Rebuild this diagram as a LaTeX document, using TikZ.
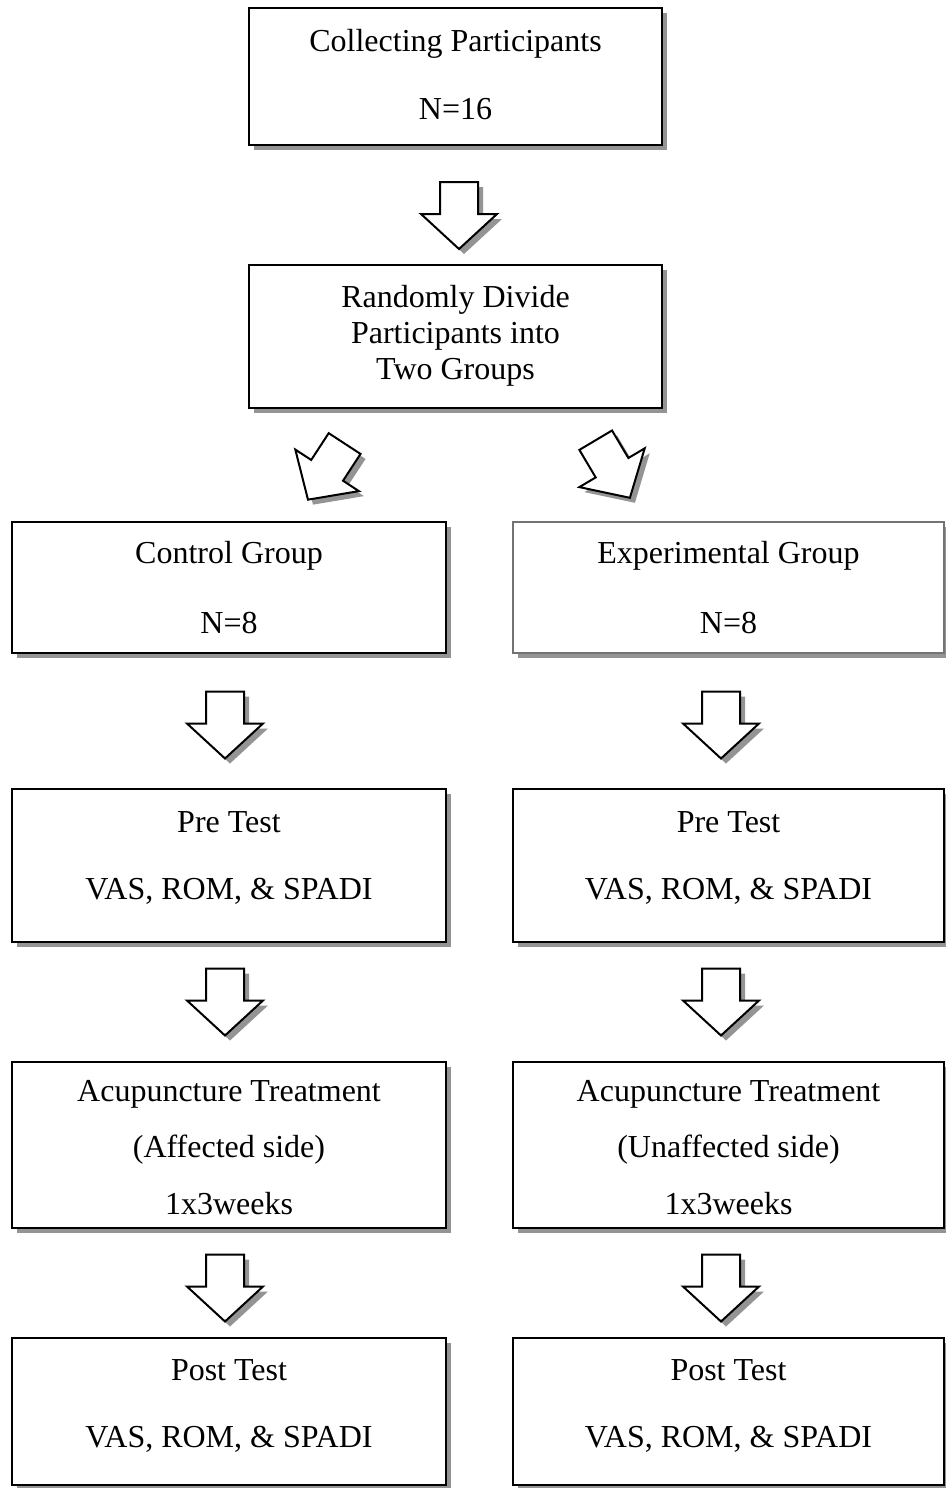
\documentclass[tikz,border=0pt]{standalone}
\usepackage{fontspec}
\setmainfont{Liberation Serif}
\usetikzlibrary{shadows}
\tikzset{
  stepbox/.style={draw=black, line width=1pt, fill=white, inner sep=0pt,
    drop shadow={shadow xshift=2.5pt, shadow yshift=-2.5pt, fill=black!42, opacity=1}},
  lbl/.style={font=\fontsize{16}{19}\selectfont, inner sep=0pt, yshift=-1.2pt},
  arrowshadow/.style={fill=black!42, draw=none},
  arrowbody/.style={fill=white, draw=black, line width=1pt, line join=miter},
}
\newcommand{\blockarrow}[4]{%
  \fill[arrowshadow, shift={(#2+5,#3+5)}, rotate=#4]
    (-33.5,-19) -- (-1.5,-19) -- (-1.5,-38) -- (33.5,0) -- (-1.5,38) -- (-1.5,19) -- (-33.5,19) -- cycle;
  \draw[arrowbody, shift={(#2,#3)}, rotate=#4]
    (-33.5,-19) -- (-1.5,-19) -- (-1.5,-38) -- (33.5,0) -- (-1.5,38) -- (-1.5,19) -- (-33.5,19) -- cycle;
  \coordinate (#1) at (#2,#3);
}
\begin{document}
\begin{tikzpicture}[x=0.5pt, y=-0.5pt]
\useasboundingbox (0,0) rectangle (946,1488);
\fill[white] (0,0) rectangle (946,1488);

% top boxes
\node[stepbox, minimum width=206.5pt, minimum height=68.5pt] (collect) at (455.5,76.5) {};
\node[lbl] (collectA) at (455.5,41) {Collecting Participants};
\node[lbl] (collectB) at (455.5,107) {N=16};

\blockarrow{arrA}{459}{215.5}{-90}

\node[stepbox, minimum width=206.5pt, minimum height=71.5pt] (divide) at (455.5,336.5) {};
\node[lbl] (divideA) at (455.5,297) {Randomly Divide};
\node[lbl] (divideB) at (455.5,334) {Participants into};
\node[lbl] (divideC) at (455.5,370) {Two Groups};

\blockarrow{arrL}{326.3}{471.6}{236.85}
\blockarrow{arrR}{612.8}{469}{300.7}

% group boxes
\node[stepbox, minimum width=217pt, minimum height=65.5pt] (ctrl) at (229,587.5) {};
\node[lbl] (ctrlA) at (229,553) {Control Group};
\node[lbl] (ctrlB) at (229,621) {N=8};
\node[stepbox, draw=black!55, minimum width=215.5pt, minimum height=65.5pt] (expt) at (728.5,587.5) {};
\node[lbl] (exptA) at (728.5,553) {Experimental Group};
\node[lbl] (exptB) at (728.5,621) {N=8};

\blockarrow{arrL2}{225}{725}{-90}
\blockarrow{arrR2}{721}{725}{-90}

% pre test
\node[stepbox, minimum width=217pt, minimum height=76.5pt] (preL) at (229,865.5) {};
\node[lbl] (preLA) at (229,820) {Pre Test};
\node[lbl] (preLB) at (229,889) {VAS, ROM, \& SPADI};
\node[stepbox, minimum width=215.5pt, minimum height=76.5pt] (preR) at (728.5,865.5) {};
\node[lbl] (preRA) at (728.5,820) {Pre Test};
\node[lbl] (preRB) at (728.5,889) {VAS, ROM, \& SPADI};

\blockarrow{arrL3}{225}{1002}{-90}
\blockarrow{arrR3}{721}{1002}{-90}

% acupuncture
\node[stepbox, minimum width=217pt, minimum height=83pt] (acuL) at (229,1145) {};
\node[lbl] (acuLA) at (229,1092) {Acupuncture Treatment};
\node[lbl] (acuLB) at (229,1147) {(Affected side)};
\node[lbl] (acuLC) at (229,1201) {1x3weeks};
\node[stepbox, minimum width=215.5pt, minimum height=83pt] (acuR) at (728.5,1145) {};
\node[lbl] (acuRA) at (728.5,1092) {Acupuncture Treatment};
\node[lbl] (acuRB) at (728.5,1147) {(Unaffected side)};
\node[lbl] (acuRC) at (728.5,1201) {1x3weeks};

\blockarrow{arrL4}{225}{1288}{-90}
\blockarrow{arrR4}{721}{1288}{-90}

% post test
\node[stepbox, minimum width=217pt, minimum height=73.5pt] (postL) at (229,1411.5) {};
\node[lbl] (postLA) at (229,1368) {Post Test};
\node[lbl] (postLB) at (229,1437) {VAS, ROM, \& SPADI};
\node[stepbox, minimum width=215.5pt, minimum height=73.5pt] (postR) at (728.5,1411.5) {};
\node[lbl] (postRA) at (728.5,1368) {Post Test};
\node[lbl] (postRB) at (728.5,1437) {VAS, ROM, \& SPADI};
\end{tikzpicture}
\end{document}
